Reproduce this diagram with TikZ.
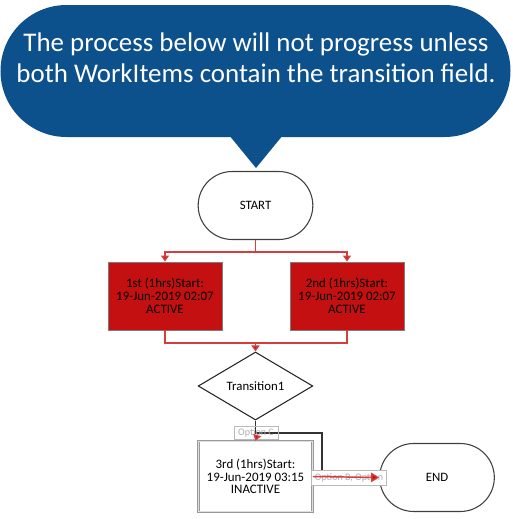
\documentclass[tikz,border=0pt]{standalone}
\usepackage{fontspec}
\setmainfont{Carlito}
\usetikzlibrary{shapes.geometric,shapes.misc,arrows.meta}

\definecolor{calloutblue}{RGB}{12,81,139}
\definecolor{boxred}{RGB}{196,16,16}
\definecolor{linkred}{RGB}{214,62,62}
\definecolor{edgegray}{RGB}{125,125,125}

\tikzset{
  terminal/.style={rounded rectangle, draw=black!75, line width=0.8pt, fill=white,
    minimum width=86pt, minimum height=51pt, inner sep=0pt, font=\fontsize{9.6}{10}\selectfont},
  workitem/.style={rectangle, draw=edgegray, line width=0.7pt, fill=boxred, align=center,
    minimum width=85.5pt, minimum height=51pt, inner sep=0pt, font=\fontsize{9.7}{9.6}\selectfont},
  pending/.style={workitem, fill=white, draw=gray!80, double=gray!25, double distance=0.6pt,
    line width=0.5pt, minimum height=53pt},
  decision/.style={diamond, draw=black!85, line width=0.8pt, fill=white, aspect=1.69,
    minimum width=86pt, minimum height=51pt, inner sep=0pt, font=\fontsize{9.6}{10}\selectfont},
  optlabel/.style={rectangle, draw=gray!55, text=gray!65, inner sep=0pt,
    font=\fontsize{7.5}{8}\selectfont},
  link/.style={draw=linkred, line width=1.1pt},
  route/.style={draw=black!80, line width=1.1pt},
  tip/.style={-{Triangle[width=6pt,length=4.5pt,fill=boxred]}}
}

\begin{document}
\begin{tikzpicture}[x=0.75pt,y=-0.75pt]
  \useasboundingbox (0,0) rectangle (512,519);

  % speech bubble
  \node[rounded rectangle, fill=calloutblue, minimum width=382.5pt, minimum height=99pt,
    inner sep=0pt] (bubble) at (255.5,71) {};
  \fill[calloutblue] (229,135) -- (256,168) -- (283,135) -- cycle;
  \node[text=white, align=center, font=\fontsize{20.2}{23.3}\selectfont] (msg) at (256,58)
    {The process below will not progress unless\\both WorkItems contain the transition field.};

  % flow
  \node[terminal] (start) at (255.5,205.5) {START};
  \node[workitem] (first) at (165,296) {1st (1hrs)Start:\\19-Jun-2019 02:07\\ACTIVE};
  \node[workitem] (second) at (347,296) {2nd (1hrs)Start:\\19-Jun-2019 02:07\\ACTIVE};
  \node[decision] (trans) at (255.5,386) {Transition1};
  \node[pending] (third) at (255.5,476.5) {3rd (1hrs)Start:\\19-Jun-2019 03:15\\INACTIVE};
  \node[terminal] (finish) at (437,477.5) {END};

  \coordinate (split) at (255.5,252);
  \coordinate (merge) at (255.5,343);
  \coordinate (bend) at (322,433);

  \draw[link] (start.south) -- (split);
  \draw[link,tip] (split) -| (first.north);
  \draw[link,tip] (split) -| (second.north);
  \draw[link] (first.south) |- (merge);
  \draw[link] (second.south) |- (merge);
  \draw[link,tip] (merge) -- (trans.north);

  \node[optlabel, fill=white, minimum width=56pt, minimum height=11pt] (optB) at (349,478)
    {Option B, Option};
  \draw[route] (trans.south) |- (bend) -- (bend |- optB.north);
  \node[optlabel, minimum width=33pt, minimum height=9.5pt] (optC) at (256,432.5) {Option C};

  \draw[link,tip] (optC.south) -- (third.north);
  \draw[link,-{Triangle[width=7pt,length=6pt,fill=boxred]}] (third.east) -- (finish.west);
\end{tikzpicture}
\end{document}
